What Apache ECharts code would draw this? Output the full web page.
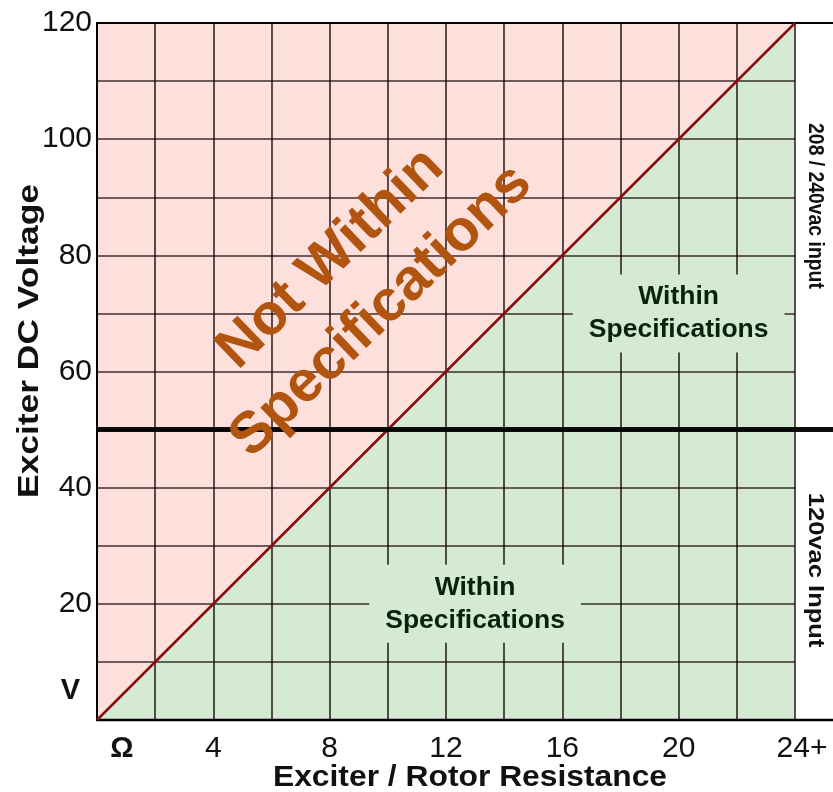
<!DOCTYPE html>
<html><head><meta charset="utf-8">
<script src="https://cdn.jsdelivr.net/npm/echarts@6/dist/echarts.min.js"></script>
<style>html,body{margin:0;padding:0;background:#fff}#c{width:833px;height:792px}</style>
</head><body><div id="c"></div>
<script>
// ---- data ----
const xMin = 0, xMax = 24, xStep = 2, xLabelStep = 4;
const yMin = 0, yMax = 120, yStep = 10, yLabelStep = 20;
const xSpecialLabels = {0: 'Ω', 24: '24+'};
const ySpecialLabels = {0: 'V'};
const specBoundary = [[0, 0], [24, 120]];
const voltageThreshold = 50;
const withinLabelPoints = [[20, 70], [13, 20]];
const withinText = 'Within\nSpecifications';
const notWithinText = 'Not Within\nSpecifications';
const xTitle = 'Exciter / Rotor Resistance';
const yTitle = 'Exciter DC Voltage';
const upperBandLabel = '208 / 240vac input';
const lowerBandLabel = '120vac Input';

// ---- styles ----
const FONT = '"Liberation Sans", Arial, Helvetica, sans-serif';
const PINK = '#fde0dc';
const GREEN = '#d4ead3';
const GRIDLINE = 'rgba(15,0,0,0.8)';

const chart = echarts.init(document.getElementById('c'));
const option = {
  animation: false,
  backgroundColor: '#fff',
  grid: {left: 97, right: 38, top: 23, bottom: 72, show: true, backgroundColor: PINK,
         borderWidth: 0, containLabel: false, outerBoundsMode: 'none'},
  xAxis: {
    type: 'value', min: xMin, max: xMax, interval: xStep, z: 10,
    axisLine: {show: true, onZero: false, lineStyle: {color: '#000', width: 2}},
    axisTick: {show: false},
    splitLine: {show: true, lineStyle: {color: GRIDLINE, width: 1.7}},
    axisLabel: {
      margin: 14, fontSize: 30, fontFamily: FONT, color: '#111',
      formatter: v => {
        if (v === 0) return '{o|' + xSpecialLabels[0] + '}';
        if (v === 24) return '{p|' + xSpecialLabels[24] + '}';
        return v % xLabelStep === 0 ? String(v) : '';
      },
      rich: {
        o: {fontSize: 29, fontWeight: 'bold', fontFamily: FONT, color: '#111', padding: [0, 0, 0, 50]},
        p: {fontSize: 30, fontFamily: FONT, color: '#111', padding: [0, 0, 0, 14]}
      }
    }
  },
  yAxis: {
    type: 'value', min: yMin, max: yMax, interval: yStep, z: 10,
    axisLine: {show: true, onZero: false, lineStyle: {color: '#000', width: 2}},
    axisTick: {show: false},
    splitLine: {show: true, lineStyle: {color: GRIDLINE, width: 1.7}},
    axisLabel: {
      margin: 5, fontSize: 30, fontFamily: FONT, color: '#111',
      formatter: v => {
        if (v === 0) return '{v|' + ySpecialLabels[0] + '}';
        return v % yLabelStep === 0 ? String(v) : '';
      },
      rich: {
        v: {fontSize: 29, fontWeight: 'bold', fontFamily: FONT, color: '#111', padding: [0, 12, 58, 0]}
      }
    }
  },
  series: [
    {
      type: 'line', data: specBoundary, symbol: 'none', z: 1, silent: true,
      lineStyle: {width: 0, opacity: 0},
      areaStyle: {color: GREEN, opacity: 1}
    },
    {
      type: 'line', data: specBoundary, symbol: 'none', z: 15, silent: true,
      lineStyle: {color: '#850e0e', width: 2.5}
    },
    {
      type: 'scatter', data: withinLabelPoints, symbolSize: 1, z: 20, silent: true,
      itemStyle: {color: 'rgba(0,0,0,0)'},
      label: {
        show: true, position: 'inside', formatter: withinText, opacity: 1,
        fontSize: 26.5, fontWeight: 'bold', fontFamily: FONT, color: '#0a220a',
        lineHeight: 33, backgroundColor: GREEN, padding: [6, 16, 6, 16]
      }
    }
  ]
};
chart.setOption(option);

const W = chart.getWidth();
const pThr = chart.convertToPixel({gridIndex: 0}, [xMin, voltageThreshold]);
const pTop = chart.convertToPixel({gridIndex: 0}, [xMin, yMax]);
const pBot = chart.convertToPixel({gridIndex: 0}, [xMin, yMin]);
const pRight = chart.convertToPixel({gridIndex: 0}, [xMax, yMin]);
const pUpperBand = chart.convertToPixel({gridIndex: 0}, [xMax, 88.5]);
const pLowerBand = chart.convertToPixel({gridIndex: 0}, [xMax, 25.8]);
const gridMidX = (pBot[0] + pRight[0]) / 2;
const deg = Math.PI / 180;

function txt(text, x, y, size, rot, sx) {
  return {
    type: 'text', x: x, y: y, rotation: rot || 0, scaleX: sx || 1, scaleY: 1, z: 30, silent: true,
    style: {text: text, font: 'bold ' + size + 'px ' + FONT, fill: '#111', align: 'center', verticalAlign: 'middle'}
  };
}

chart.setOption({
  graphic: [
    {type: 'line', z: 12, silent: true, shape: {x1: pTop[0] - 1, y1: pTop[1], x2: W, y2: pTop[1]}, style: {stroke: '#000', lineWidth: 2}},
    {type: 'line', z: 12, silent: true, shape: {x1: pBot[0] - 1, y1: pBot[1], x2: W, y2: pBot[1]}, style: {stroke: '#000', lineWidth: 2.5}},
    {type: 'line', z: 18, silent: true, shape: {x1: pThr[0], y1: pThr[1], x2: W, y2: pThr[1]}, style: {stroke: 'rgba(3,3,3,0.96)', lineWidth: 5}},
    txt(xTitle, gridMidX + 24, 778, 30, 0, 1.06),
    txt(yTitle, 30, 341, 29, 90 * deg, 1.22),
    txt(upperBandLabel, pUpperBand[0] + 20, pUpperBand[1], 22, -90 * deg, 0.88),
    txt(lowerBandLabel, pLowerBand[0] + 20, pLowerBand[1], 22, -90 * deg, 1.16),
    {
      type: 'text', x: 356, y: 285, rotation: 44 * deg, z: 30, silent: true,
      style: {text: notWithinText, font: 'bold 58px ' + FONT, fill: '#b0540f', align: 'center', verticalAlign: 'middle', lineHeight: 73}
    }
  ]
});
</script>
</body></html>
